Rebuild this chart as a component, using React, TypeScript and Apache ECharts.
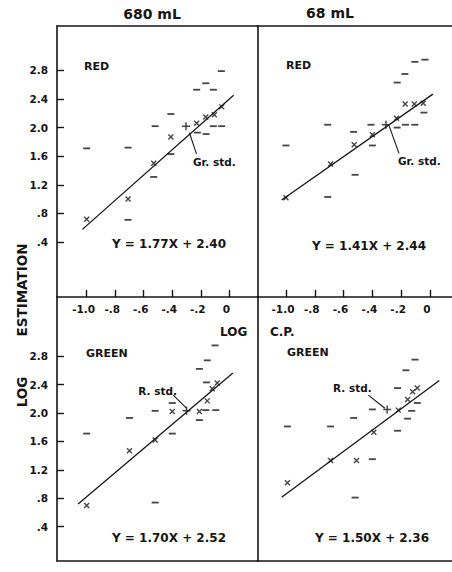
import React, { useEffect, useRef } from "react";
import * as echarts from "echarts";

// ---------- data ----------
const xTicks = [-1.0, -0.8, -0.6, -0.4, -0.2, 0];
const xTickLabels = ["-1.0", "-.8", "-.6", "-.4", "-.2", "0"];
const yTicks = [0.4, 0.8, 1.2, 1.6, 2.0, 2.4, 2.8];
const yTickLabels = [".4", ".8", "1.2", "1.6", "2.0", "2.4", "2.8"];

const volumes = ["680 mL", "68 mL"];
const colorsNames = ["RED", "RED", "GREEN", "GREEN"];

// panel 0: 680 mL red
const red680Means: [number, number][] = [
  [-1.0, 0.72], [-0.71, 1.0], [-0.53, 1.5], [-0.41, 1.87],
  [-0.229, 2.06], [-0.165, 2.15], [-0.105, 2.18], [-0.053, 2.29],
];
const red680Ranges: [number, number][] = [
  [-1.0, 1.71], [-0.71, 1.72], [-0.71, 0.71], [-0.52, 2.02], [-0.53, 1.31],
  [-0.41, 2.19], [-0.41, 1.63], [-0.229, 2.53], [-0.224, 1.93], [-0.165, 2.62],
  [-0.163, 1.91], [-0.112, 2.53], [-0.112, 2.02], [-0.056, 2.79], [-0.054, 2.02],
];
const red680Std: [number, number][] = [[-0.304, 2.02]];

// panel 1: 68 mL red
const red68Means: [number, number][] = [
  [-1.0, 1.02], [-0.69, 1.49], [-0.526, 1.76], [-0.4, 1.9],
  [-0.232, 2.13], [-0.172, 2.33], [-0.109, 2.33], [-0.047, 2.34],
];
const red68Ranges: [number, number][] = [
  [-1.0, 1.75], [-0.71, 2.04], [-0.71, 1.03], [-0.53, 1.94], [-0.52, 1.34],
  [-0.41, 2.04], [-0.4, 1.75], [-0.228, 2.63], [-0.228, 2.0], [-0.174, 2.75],
  [-0.17, 2.04], [-0.105, 2.92], [-0.105, 2.04], [-0.035, 2.95], [-0.042, 2.21],
];
const red68Std: [number, number][] = [[-0.306, 2.04]];

// panel 2: 680 mL green
const green680Means: [number, number][] = [
  [-1.0, 0.7], [-0.7, 1.47], [-0.52, 1.62], [-0.4, 2.02],
  [-0.21, 2.02], [-0.155, 2.17], [-0.12, 2.34], [-0.085, 2.42],
];
const green680Ranges: [number, number][] = [
  [-1.0, 1.71], [-0.7, 1.93], [-0.52, 2.03], [-0.52, 0.74], [-0.4, 2.14],
  [-0.4, 1.71], [-0.21, 2.62], [-0.21, 1.9], [-0.155, 2.74], [-0.16, 2.43],
  [-0.1, 2.95], [-0.165, 2.04], [-0.095, 2.04],
];
const green680Std: [number, number][] = [[-0.3, 2.03]];

// panel 3: 68 mL green
const green68Means: [number, number][] = [
  [-0.99, 1.02], [-0.69, 1.33], [-0.51, 1.33], [-0.39, 1.73],
  [-0.22, 2.04], [-0.155, 2.19], [-0.12, 2.3], [-0.088, 2.35],
];
const green68Ranges: [number, number][] = [
  [-0.99, 1.81], [-0.69, 1.81], [-0.53, 1.93], [-0.52, 0.81], [-0.4, 2.05],
  [-0.4, 1.35], [-0.225, 2.35], [-0.225, 1.75], [-0.167, 2.6], [-0.155, 1.92],
  [-0.104, 2.75], [-0.127, 2.03], [-0.088, 2.14],
];
const green68Std: [number, number][] = [[-0.297, 2.05]];

// fitted lines Y = slope * X + intercept
const fitSlopes = [1.77, 1.41, 1.7, 1.5];
const fitIntercepts = [2.4, 2.44, 2.52, 2.36];
const fitXRanges: [number, number][] = [[-1.03, 0.03], [-1.03, 0.02], [-1.06, 0.025], [-1.03, 0.065]];
const equationTexts = ["Y = 1.77X + 2.40", "Y = 1.41X + 2.44", "Y = 1.70X + 2.52", "Y = 1.50X + 2.36"];

// standard leader lines (data coords)
const leaderLines: [number, number][][] = [
  [[-0.28, 1.93], [-0.23, 1.63]],
  [[-0.283, 2.02], [-0.215, 1.64]],
  [[-0.393, 2.25], [-0.299, 2.066]],
  [[-0.428, 2.25], [-0.313, 2.066]],
];
const stdNames = ["Gr. std.", "Gr. std.", "R. std.", "R. std."];

const panelMeans = [red680Means, red68Means, green680Means, green68Means];
const panelRanges = [red680Ranges, red68Ranges, green680Ranges, green68Ranges];
const panelStd = [red680Std, red68Std, green680Std, green68Std];

// ---------- layout ----------
const GRIDS = [
  { left: 57, top: 26, width: 200.3, height: 271 },
  { left: 257.3, top: 26, width: 194.7, height: 271 },
  { left: 57, top: 297, width: 200.3, height: 264 },
  { left: 257.3, top: 297, width: 194.7, height: 264 },
];
const X_RANGES = [[-1.208, 0.196], [-1.199, 0.153], [-1.208, 0.196], [-1.199, 0.153]];
const Y_RANGES = [[-0.369, 3.421], [-0.369, 3.421], [-0.082, 3.631], [-0.082, 3.631]];

const INK = "#151515";
const FONT = '"DejaVu Sans", sans-serif';

const CROSS = "path://M0,0L10,10M10,0L0,10";
const PLUS = "path://M5,0L5,10M0,5L10,5";

export default function App() {
  const ref = useRef<HTMLDivElement>(null);
  useEffect(() => {
    if (!ref.current) return;
    const chart = echarts.init(ref.current, undefined, { renderer: "svg" });
    const axisLine = { show: true, onZero: false, lineStyle: { color: INK, width: 1.6 } };

    const xAxis: any[] = [];
    const yAxis: any[] = [];
    GRIDS.forEach((_, i) => {
      const isTop = i < 2;
      xAxis.push({
        type: "value", gridIndex: i, position: "bottom",
        min: X_RANGES[i][0], max: X_RANGES[i][1],
        axisLine,
        splitLine: { show: false },
        axisTick: isTop
          ? { show: true, inside: true, length: 7, customValues: xTicks, lineStyle: { color: INK, width: 1.4 } }
          : { show: false },
        axisLabel: isTop
          ? {
              show: true, customValues: xTicks, margin: 6, color: INK,
              fontFamily: FONT, fontSize: 10.5, fontWeight: "bold", padding: [0, 6, 0, 0],
              formatter: (v: number) => {
                const k = xTicks.findIndex((t) => Math.abs(t - v) < 1e-6);
                return k >= 0 ? xTickLabels[k] : "";
              },
            }
          : { show: false },
      });
    });
    // top borders
    [0, 1].forEach((i) => {
      xAxis.push({
        type: "value", gridIndex: i, position: "top",
        min: X_RANGES[i][0], max: X_RANGES[i][1],
        axisLine, axisTick: { show: false }, axisLabel: { show: false }, splitLine: { show: false },
      });
    });
    GRIDS.forEach((_, i) => {
      const isLeft = i % 2 === 0;
      yAxis.push({
        type: "value", gridIndex: i, position: "left",
        min: Y_RANGES[i][0], max: Y_RANGES[i][1],
        axisLine,
        splitLine: { show: false },
        axisTick: isLeft
          ? { show: true, inside: true, length: 7, customValues: yTicks, lineStyle: { color: INK, width: 1.4 } }
          : { show: false },
        axisLabel: isLeft
          ? {
              show: true, customValues: yTicks, margin: 9, color: INK,
              fontFamily: FONT, fontSize: 10.5, fontWeight: "bold",
              formatter: (v: number) => {
                const k = yTicks.findIndex((t) => Math.abs(t - v) < 1e-6);
                return k >= 0 ? yTickLabels[k] : "";
              },
            }
          : { show: false },
      });
    });

    const series: any[] = [];
    for (let i = 0; i < 4; i++) {
      series.push({
        type: "line", xAxisIndex: i, yAxisIndex: i, symbol: "none", silent: true,
        data: fitXRanges[i].map((x) => [x, fitSlopes[i] * x + fitIntercepts[i]]),
        lineStyle: { color: INK, width: 1.3 },
      });
      series.push({
        type: "line", xAxisIndex: i, yAxisIndex: i, symbol: "none", silent: true,
        data: leaderLines[i], lineStyle: { color: INK, width: 1.1 },
      });
      series.push({
        type: "scatter", xAxisIndex: i, yAxisIndex: i, symbol: CROSS, symbolSize: 5,
        data: panelMeans[i],
        itemStyle: { color: "transparent", borderColor: INK, borderWidth: 1.4 },
      });
      series.push({
        type: "scatter", xAxisIndex: i, yAxisIndex: i, symbol: "rect", symbolSize: [7, 1.8],
        data: panelRanges[i], itemStyle: { color: INK },
      });
      series.push({
        type: "scatter", xAxisIndex: i, yAxisIndex: i, symbol: PLUS, symbolSize: 8,
        data: panelStd[i],
        itemStyle: { color: "transparent", borderColor: INK, borderWidth: 1.5 },
      });
    }

    const txt = (text: string, x: number, y: number, size: number, align = "left", extra: any = {}) => ({
      type: "text", x, y, silent: true, ...extra,
      style: { text, fill: INK, font: `bold ${size}px ${FONT}`, align, verticalAlign: "middle" },
    });

    const graphic: any[] = [
      txt(volumes[0], 152, 14, 14, "center"),
      txt(volumes[1], 330, 13, 14, "center"),
      txt(colorsNames[0], 84, 66, 11),
      txt(colorsNames[1], 286, 65, 11),
      txt(colorsNames[2], 86, 353, 11),
      txt(colorsNames[3], 287, 352, 11),
      txt(equationTexts[0], 112, 244, 12),
      txt(equationTexts[1], 312, 246, 12),
      txt(equationTexts[2], 112, 538, 12),
      txt(equationTexts[3], 315, 538, 12),
      txt(stdNames[0], 193, 162, 10.5),
      txt(stdNames[1], 398, 161, 10.5),
      txt(stdNames[2], 177, 391, 10.5, "right"),
      txt(stdNames[3], 333, 388, 10.5),
      txt("LOG", 220, 332, 12),
      txt("C.P.", 270, 332, 12),
      txt("ESTIMATION", 22, 290, 13.5, "center", { rotation: Math.PI / 2 }),
      txt("LOG", 22, 392, 13.5, "center", { rotation: Math.PI / 2 }),
    ];

    chart.setOption({
      animation: false,
      backgroundColor: "#ffffff",
      grid: GRIDS.map((g) => ({ ...g, containLabel: false, outerBoundsMode: "none" })),
      xAxis,
      yAxis,
      series,
      graphic,
    });
    return () => chart.dispose();
  }, []);

  return (
    <div
      ref={ref}
      style={{ position: "fixed", left: 0, top: 0, width: 452, height: 572, background: "#fff" }}
    />
  );
}
